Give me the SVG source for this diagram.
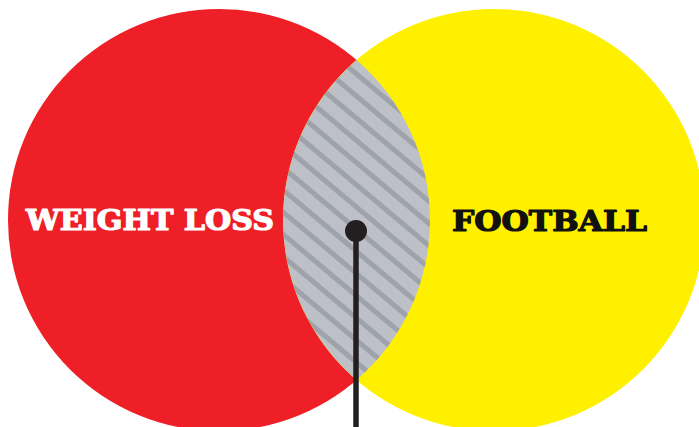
<svg xmlns="http://www.w3.org/2000/svg" width="699" height="427" viewBox="0 0 699 427">
  <style>
    .lbl { font-family: "DejaVu Serif", "Liberation Serif", serif; font-weight: 900; font-size: 27px; stroke-width: 1.2px; stroke-linejoin: round; }
  </style>
  <defs>
    <pattern id="stripes" patternUnits="userSpaceOnUse" width="17" height="17" patternTransform="rotate(-50)">
      <rect width="17" height="17" fill="#bec0c7"/>
      <rect x="0" y="0" width="5" height="17" fill="#9ea2ab"/>
    </pattern>
  </defs>
  <rect width="699" height="427" fill="#ffffff"/>
  <g id="weight-loss">
    <circle cx="219" cy="220" r="211" fill="#ee1f26"/>
    <text class="lbl" x="26" y="230" fill="#ffffff" stroke="#ffffff" textLength="248" lengthAdjust="spacingAndGlyphs">WEIGHT LOSS</text>
  </g>
  <g id="football">
    <circle cx="494" cy="220" r="211" fill="#fff000"/>
    <text class="lbl" x="452" y="231" fill="#111111" stroke="#111111" textLength="195" lengthAdjust="spacingAndGlyphs">FOOTBALL</text>
  </g>
  <g id="overlap">
    <path d="M356.5,60 A211,211 0 0 0 356.5,380 A211,211 0 0 0 356.5,60 Z" fill="url(#stripes)"/>
  </g>
  <g id="connectors">
    <line x1="356" y1="231" x2="356" y2="427" stroke="#231f20" stroke-width="5.5"/>
    <circle cx="356" cy="231" r="11" fill="#231f20"/>
  </g>
</svg>
